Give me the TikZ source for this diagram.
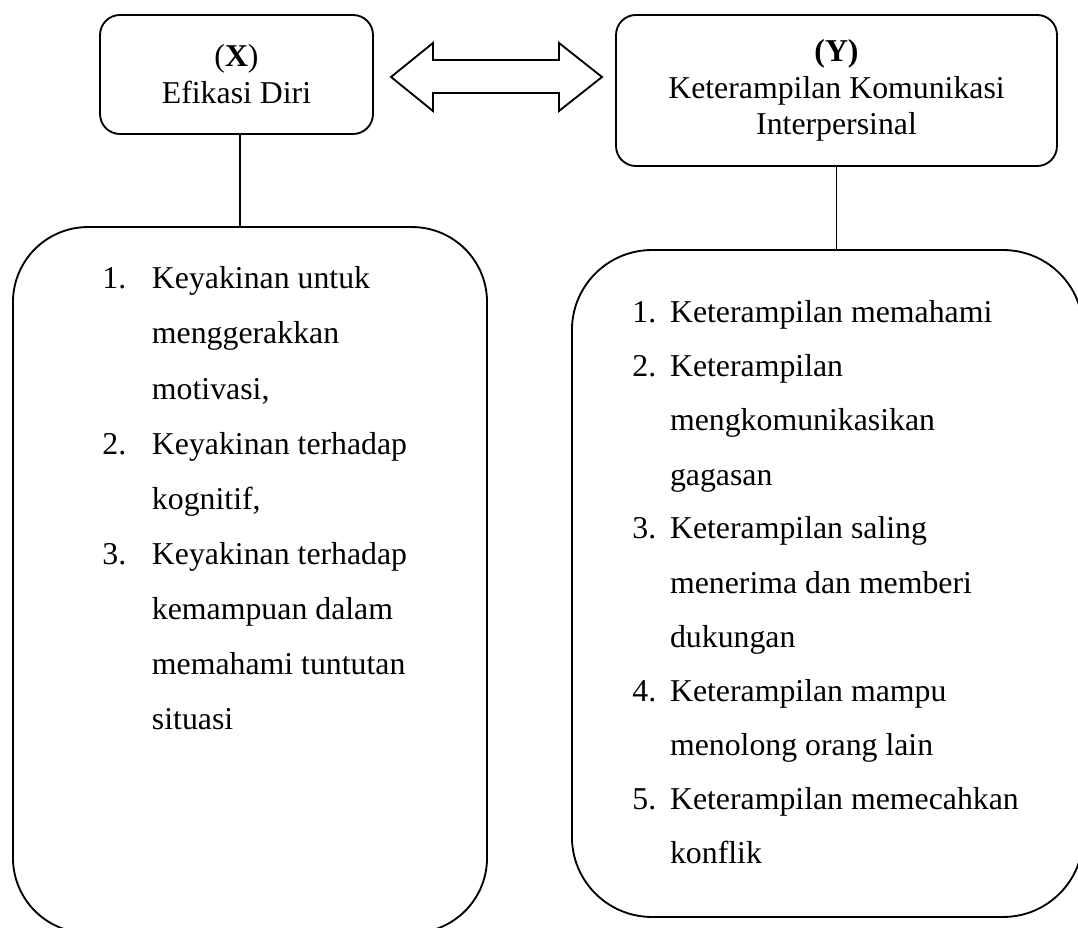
\documentclass[tikz,border=0pt]{standalone}
\usepackage{fontspec}
\setmainfont{Liberation Serif}
\usepackage{tikz}

\newlength{\numw}
\newcommand{\listitem}[2]{\hangindent=\numw\hangafter=1\noindent\makebox[\numw][l]{#1}#2\par}

\begin{document}
\begin{tikzpicture}[x=0.3774pt, y=-0.3774pt, line width=0.7pt,
  varbox/.style={draw, rounded corners=7.5pt, align=center, inner sep=0pt,
    font=\fontsize{12}{13.9}\selectfont},
  indbox/.style={draw, inner sep=0pt},
  itemlist/.style={anchor=base west, inner sep=0pt}]
  \useasboundingbox (0,0) rectangle (1078,928);
  % variabel
  \node[varbox, minimum width=103pt, minimum height=44.9pt] (x) at (236.5,74.5) {(\textbf{X})\\Efikasi Diri};
  \node[varbox, minimum width=166.4pt, minimum height=57pt] (y) at (836.5,90.5) {\textbf{(Y)}\\Keterampilan Komunikasi\\Interpersinal};
  \draw (391,77) -- (433,43) -- (433,60) -- (559,60) -- (559,43) -- (602,77)
    -- (559,111) -- (559,93) -- (433,93) -- (433,111) -- cycle;
  % indikator
  \node[indbox, rounded corners=28.3pt, minimum width=178.9pt, minimum height=266.4pt] (xind) at (250,580) {};
  \node[indbox, rounded corners=30.2pt, minimum width=192.9pt, minimum height=251.7pt] (yind) at (827.5,583.5) {};
  \draw ([xshift=1.3pt]x.south) -- ([xshift=1.3pt]x.south |- xind.north);
  \draw (y.south) -- (y.south |- yind.north);
  \node[itemlist, font=\fontsize{12}{20.76}\selectfont] (xlist) at (101.5,289) {\parbox[t]{150pt}{%
    \setlength{\numw}{18.7pt}%
    \listitem{1.}{Keyakinan untuk\\menggerakkan\\motivasi,}
    \listitem{2.}{Keyakinan terhadap\\kognitif,}
    \listitem{3.}{Keyakinan terhadap\\kemampuan dalam\\memahami tuntutan\\situasi}}};
  \node[itemlist, font=\fontsize{12}{20.38}\selectfont] (ylist) at (631.5,323) {\parbox[t]{170pt}{%
    \setlength{\numw}{14.2pt}%
    \listitem{1.}{Keterampilan memahami}
    \listitem{2.}{Keterampilan\\mengkomunikasikan\\gagasan}
    \listitem{3.}{Keterampilan saling\\menerima dan memberi\\dukungan}
    \listitem{4.}{Keterampilan mampu\\menolong orang lain}
    \listitem{5.}{Keterampilan memecahkan\\konflik}}};
\end{tikzpicture}
\end{document}
